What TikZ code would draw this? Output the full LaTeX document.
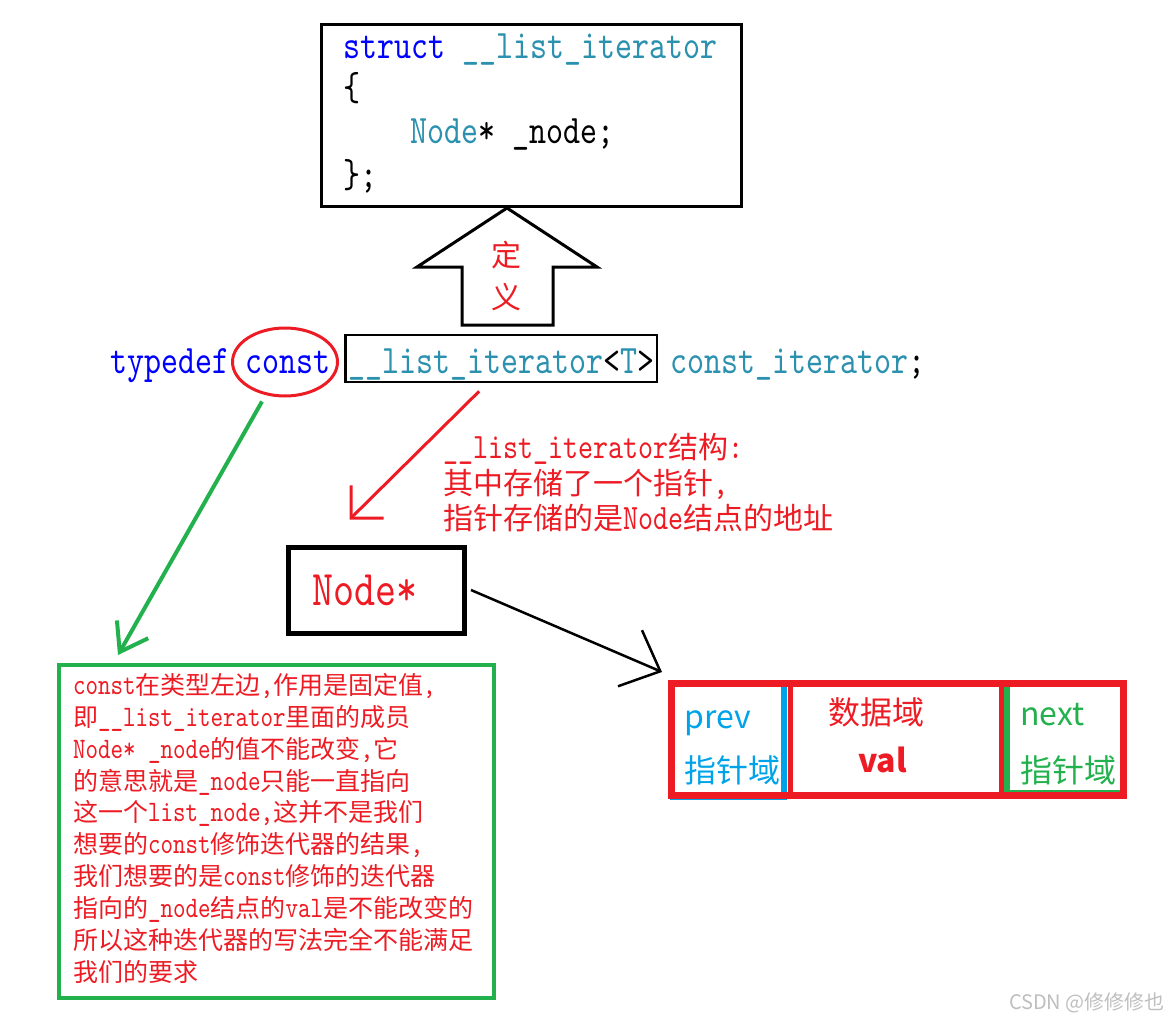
\documentclass[tikz,border=0pt]{standalone}
\usepackage{fontspec}
\usepackage{tikz}
\usetikzlibrary{arrows.meta, shapes.geometric}

\newfontfamily\codefont[Extension=.otf, Scale=1.19, FakeStretch=0.8]{lmmono10-regular}
\newfontfamily\cjk{Noto Sans CJK SC}
\newcommand{\cd}[1]{{\codefont #1}}

\definecolor{kwblue}{RGB}{0,0,255}
\definecolor{typeteal}{RGB}{43,145,175}
\definecolor{inkred}{RGB}{237,28,36}
\definecolor{inkgreen}{RGB}{34,177,76}
\definecolor{inkblue}{RGB}{0,162,232}
\definecolor{markgray}{RGB}{190,190,190}

\tikzset{
    codeline/.style={anchor=base west, inner sep=0pt, font=\codefont\fontsize{34}{40}\selectfont},
    remark/.style={anchor=base west, inner sep=0pt, text=inkred, font=\cjk\fontsize{30}{36}\selectfont},
    celltext/.style={anchor=base west, inner sep=0pt, font=\cjk\fontsize{32}{38}\selectfont},
}

\begin{document}
\begin{tikzpicture}[x=1pt, y=-1pt]
    \useasboundingbox (0,0) rectangle (1170,1022);

    \node[draw, line width=3pt, minimum width=420pt, minimum height=182pt, anchor=north west] (code) at (320,23) {};
    \node[codeline] (ln1) at (343,59) {\textcolor{kwblue}{struct} \textcolor{typeteal}{\_\_list\_iterator}};
    \node[codeline] (ln2) at (343,101) {\{};
    \node[codeline] (ln3) at (410,144) {\textcolor{typeteal}{Node}* \_node;};
    \node[codeline] (ln4) at (343,187) {\};};

    \draw[line width=3pt, fill=white] (507,208) -- (597,267) -- (553,267) -- (553,325) -- (462,325) -- (462,267) -- (417,267) -- cycle;
    \node[text=inkred, align=center, font=\cjk\fontsize{30}{42}\selectfont] (defn) at (506,276) {定\\义};

    \node[codeline, text=kwblue] (tdef) at (110,373) {typedef};
    \node[codeline, text=kwblue] (cst) at (245,373) {const};
    \node[draw=inkred, line width=3pt, ellipse, minimum width=105pt, minimum height=68pt] (ring) at (285,362) {};
    \node[codeline, draw, line width=2.5pt, inner xsep=3pt, inner ysep=2pt, text height=36pt, text depth=7pt] (iter) at (344,373) {\textcolor{typeteal}{\_\_list\_iterator}<\textcolor{typeteal}{T}>};
    \node[codeline, text=typeteal] (cit) at (670,373) {const\_iterator\textcolor{black}{;}};

    \node[remark] (info1) at (443,458) {\cd{\_\_list\_iterator}结构\cd{:}};
    \node[remark] (info2) at (443,494) {其中存储了一个指针\cd{,}};
    \node[remark] (info3) at (443,529) {指针存储的是\cd{Node}结点的地址};

    \node[draw, line width=5pt, anchor=west, text width=128pt, align=left, inner xsep=24pt, minimum height=86pt, text=inkred, font=\codefont\fontsize{42}{48}\selectfont] (ptr) at (286,590) {Node*};

    \node[draw=inkblue, line width=1.5pt, anchor=north west, minimum width=112pt, minimum height=115pt] (prevcell) at (670,683) {};
    \draw[inkblue, line width=6pt] (prevcell.north east) -- (prevcell.south east);
    \node[draw=inkgreen, line width=1.5pt, anchor=north west, minimum width=113pt, minimum height=107pt] (nextcell) at (1007,683) {};
    \draw[inkgreen, line width=6pt] (nextcell.north west) -- (nextcell.south west);
    \node[draw=inkred, line width=7pt, anchor=north west, minimum width=452pt, minimum height=112pt] (dnode) at (668,680) {};
    \draw[inkred, line width=5pt] (790,680) -- (790,792);
    \draw[inkred, line width=5pt] (1001,680) -- (1001,792);

    \node[celltext, text=inkblue] (prevname) at (684,728) {prev};
    \node[celltext, text=inkblue] (prevfield) at (684,782) {指针域};
    \node[celltext, text=inkred] (valfield) at (828,724) {数据域};
    \node[celltext, text=inkred, font=\cjk\bfseries\fontsize{32}{38}\selectfont] (valname) at (858,772) {val};
    \node[celltext, text=inkgreen] (nextname) at (1020,725) {next};
    \node[celltext, text=inkgreen] (nextfield) at (1020,782) {指针域};

    \node[draw=inkgreen, line width=4pt, anchor=north west, minimum width=435pt, minimum height=333pt] (warnbox) at (57,663) {};
    \node[anchor=north west, inner sep=0pt, align=left, text=inkred, font=\cjk\fontsize{25}{31.9}\selectfont] (warntext) at (73,673) {%
        \cd{const}在类型左边\cd{,}作用是固定值\cd{,}\\
        即\cd{\_\_list\_iterator}里面的成员\\
        \cd{Node* \_node}的值不能改变\cd{,}它\\
        的意思就是\cd{\_node}只能一直指向\\
        这一个\cd{list\_node,}这并不是我们\\
        想要的\cd{const}修饰迭代器的结果\cd{,}\\
        我们想要的是\cd{const}修饰的迭代器\\
        指向的\cd{\_node}结点的\cd{val}是不能改变的\\
        所以这种迭代器的写法完全不能满足\\
        我们的要求};

    \node[anchor=base east, inner sep=0pt, text=markgray, font=\cjk\fontsize{20}{24}\selectfont] (mark) at (1165,1009) {CSDN @修修修也};

    \draw[inkred, line width=3pt, -{Straight Barb[length=23pt, width=46pt]}] ([xshift=-22pt, yshift=-8pt]iter.south) -- ([xshift=-27pt, yshift=25pt]ptr.north);
    \draw[line width=2.5pt, -{Straight Barb[length=33pt, width=61pt]}] ([xshift=4pt]ptr.east) -- ([xshift=-6pt, yshift=8pt]dnode.north west);
    \draw[inkgreen, line width=4pt, -{Straight Barb[length=26pt, width=36pt]}] ([xshift=-23pt, yshift=-4pt]ring.south) -- ([xshift=61pt, yshift=8pt]warnbox.north west);
\end{tikzpicture}
\end{document}
